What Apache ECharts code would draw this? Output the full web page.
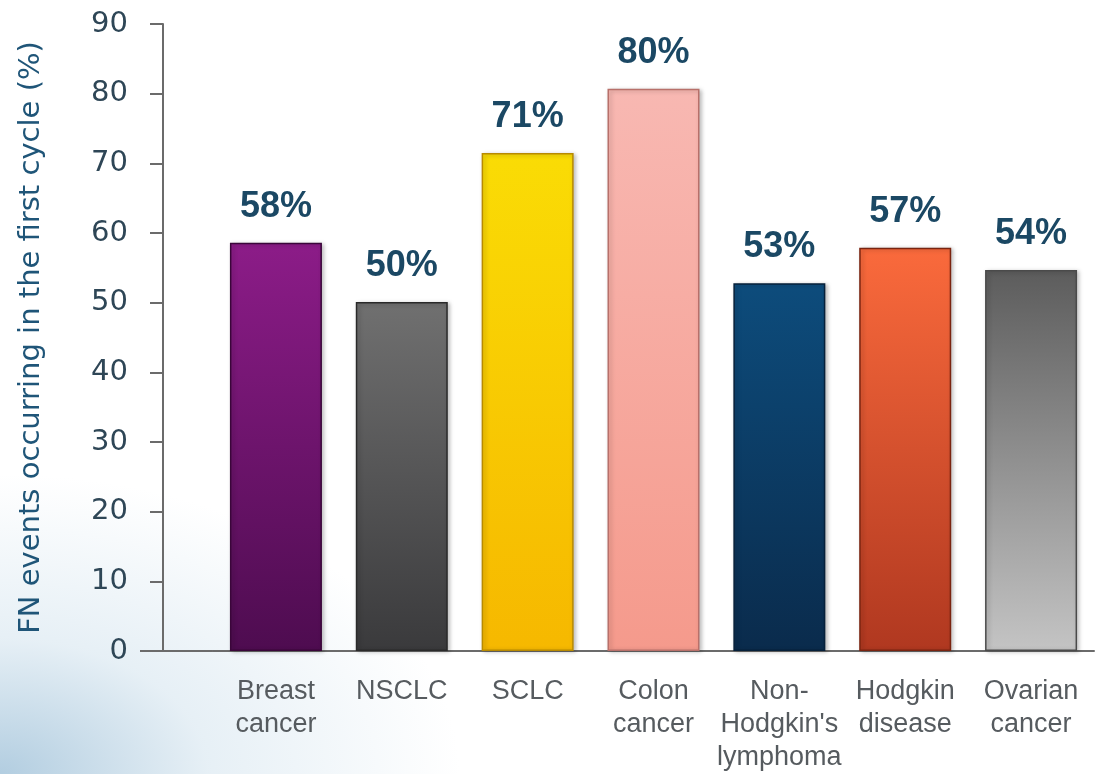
<!DOCTYPE html>
<html>
<head>
<meta charset="utf-8">
<script src="https://cdn.jsdelivr.net/npm/echarts@6/dist/echarts.min.js"></script>
<style>
  html, body { margin: 0; padding: 0; }
  body {
    width: 1097px; height: 774px; overflow: hidden;
    background:
      radial-gradient(ellipse 460px 300px at 0% 100%, rgba(170, 200, 221, 0.9) 0%, rgba(210, 227, 238, 0.55) 45%, rgba(255, 255, 255, 0) 100%),
      #ffffff;
  }
  #main { width: 1097px; height: 774px; }
</style>
</head>
<body>
<div id="main"></div>
<script>
const categories = ['Breast\ncancer', 'NSCLC', 'SCLC', 'Colon\ncancer', 'Non-\nHodgkin\'s\nlymphoma', 'Hodgkin\ndisease', 'Ovarian\ncancer'];
const values = [58.6, 50.1, 71.5, 80.7, 52.8, 57.9, 54.7];
const valueLabels = ['58%', '50%', '71%', '80%', '53%', '57%', '54%'];
const barTop = ['#8c1c88', '#707070', '#fadc05', '#f8b8b2', '#0d4c7c', '#fa6a3c', '#5c5c5c'];
const barBottom = ['#4e0c50', '#3a3a3c', '#f6b800', '#f59a8c', '#0a2b4c', '#b03820', '#c4c4c4'];
const barEdge = ['#3a063a', '#2a2a2a', '#b88a00', '#b8706a', '#06203a', '#7a2410', '#4a4a4a'];

const chartDom = document.getElementById('main');
const myChart = echarts.init(chartDom);

const barData = values.map((v, i) => ({
    value: v,
    itemStyle: {
        color: new echarts.graphic.LinearGradient(0, 0, 0, 1, [
            { offset: 0, color: barTop[i] },
            { offset: 1, color: barBottom[i] }
        ]),
        borderColor: barEdge[i],
        borderWidth: 1.5,
        shadowColor: 'rgba(0,0,0,0.25)',
        shadowBlur: 4,
        shadowOffsetX: 2,
        shadowOffsetY: 1
    },
    label: { formatter: valueLabels[i] }
}));

const option = {
    animation: false,
    grid: { left: 213, right: 3, top: 24, bottom: 123, containLabel: false },
    xAxis: {
        type: 'category',
        data: categories,
        axisLine: { show: true, lineStyle: { color: '#6b6b6b', width: 2 } },
        axisTick: { show: false },
        axisLabel: {
            interval: 0,
            color: '#565b5f',
            fontSize: 27,
            fontFamily: 'Liberation Sans, Arial, sans-serif',
            lineHeight: 33,
            margin: 24
        }
    },
    yAxis: {
        type: 'value',
        min: 0,
        max: 90,
        interval: 10,
        offset: 50,
        name: 'FN events occurring in the first cycle (%)',
        nameLocation: 'middle',
        nameGap: 117,
        nameTextStyle: {
            color: '#1f5578',
            fontSize: 29,
            fontFamily: 'DejaVu Sans, sans-serif'
        },
        axisLine: { show: true, lineStyle: { color: '#6b6b6b', width: 2 } },
        axisTick: { show: true, length: 13, lineStyle: { color: '#6b6b6b', width: 2 } },
        splitLine: { show: false },
        axisLabel: {
            color: '#2e4656',
            fontSize: 29,
            fontFamily: 'DejaVu Sans, sans-serif',
            margin: 35
        }
    },
    series: [
        {
            type: 'bar',
            barWidth: 92,
            data: barData,
            label: {
                show: true,
                position: 'top',
                distance: 18,
                color: '#1b4864',
                fontSize: 36,
                fontWeight: 'bold',
                fontFamily: 'Liberation Sans, Arial, sans-serif'
            }
        }
    ]
};

myChart.setOption(option);

// extend the baseline left past the y axis, as in the original slide
const y0 = myChart.convertToPixel({ yAxisIndex: 0 }, 0);
const xStart = myChart.convertToPixel({ xAxisIndex: 0 }, 0) - 63;
myChart.setOption({
    graphic: [{
        type: 'line',
        shape: { x1: 140, y1: y0, x2: xStart, y2: y0 },
        style: { stroke: '#6b6b6b', lineWidth: 2 },
        silent: true
    }]
});

window.addEventListener('resize', () => {
    myChart.resize();
});
</script>
</body>
</html>
